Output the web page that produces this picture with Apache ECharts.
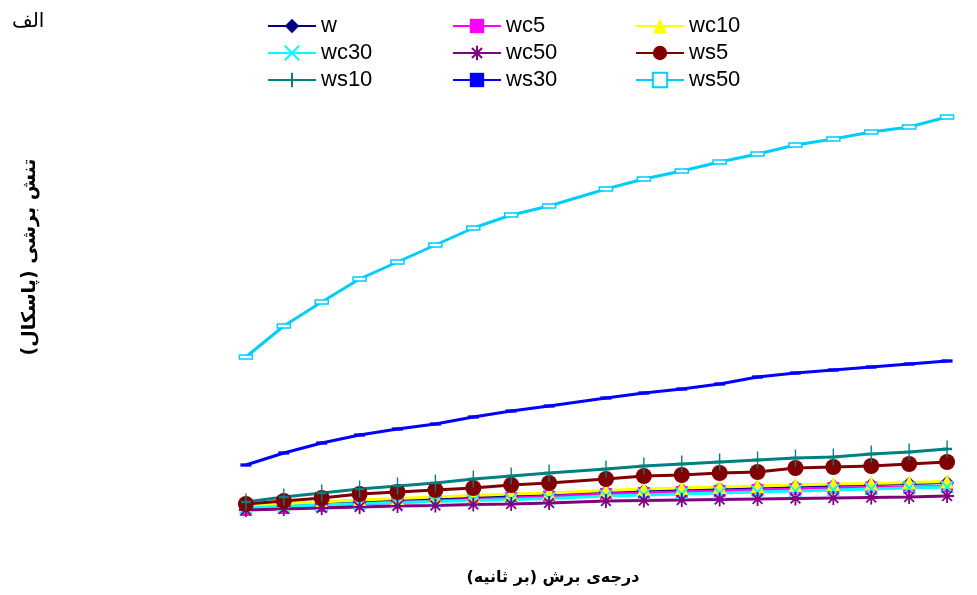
<!DOCTYPE html>
<html>
<head>
<meta charset="utf-8">
<script src="https://cdn.jsdelivr.net/npm/echarts@6/dist/echarts.min.js"></script>
<style>html,body{margin:0;padding:0;background:#fff}#c{width:977px;height:595px}</style>
</head>
<body>
<div id="c"></div>
<script>
const xValues = [1,2,3,4,5,6,7,8,9,10.5,11.5,12.5,13.5,14.5,15.5,16.5,17.5,18.5,19.5];
const seriesNames = ['w','wc5','wc10','wc30','wc50','ws5','ws10','ws30','ws50'];
const w    = [12,14,16,18,19.5,21,22.5,24,25.5,28,29.5,30.5,31.5,32.5,33.5,34.5,35.5,36.5,37.5];
const wc5  = [10,12,14,16,17.5,19,20.5,22,23.5,26,27,28,29,30,31,32,32.5,33,33.5];
const wc10 = [14,16,18,20,21.5,23,24.5,26,27,29.5,31,32,33,34,35,36,36.5,37.5,38.5];
const wc30 = [12,13.5,15,16.5,17.5,18.5,19.5,20.5,21.5,24,25,26,27,28,29,30,31,32,33];
const wc50 = [10,11,12,13,14,14.5,15.5,16,17,19,19.5,20,20.5,21,21.5,22,22.5,23,24];
const ws5  = [16,19,22,26,28,30,32,35,37,41,44,45,47,48,52,53,54,56,58];
const ws10 = [18,23,27,31,34,37,41,44,47,51,54,56,58,60,62,63,66,68,71];
const ws30 = [55,67,77,85,91,96,103,109,114,122,127,131,136,143,147,150,153,156,159];
const ws50 = [163,194,218,241,258,275,292,305,314,331,341,349,358,366,375,381,388,393,403];
const allData = [w,wc5,wc10,wc30,wc50,ws5,ws10,ws30,ws50];

const barPath = 'path://M0,0L10,0L10,3L0,3Z';
const styles = [
  {color:'#000080', symbol:'diamond', size:14, fill:true},
  {color:'#ff00ff', symbol:'rect', size:12, fill:true},
  {color:'#ffff00', symbol:'triangle', size:14, fill:true},
  {color:'#00ffff', symbol:'path://M0,0L10,10M10,0L0,10', size:12, fill:false},
  {color:'#800080', symbol:'path://M5,0L5,10M0,5L10,5M1.5,1.5L8.5,8.5M8.5,1.5L1.5,8.5', size:14, fill:false},
  {color:'#800000', symbol:'circle', size:16, fill:true},
  {color:'#008080', symbol:'path://M5,0L5,16M0,8L10,8', size:[10,17], fill:false},
  {color:'#0000ff', symbol:barPath, size:11, fill:true, keep:true},
  {color:'#00ccff', symbol:barPath, size:13, fill:'hollow', keep:true}
];

const series = seriesNames.map((n,i)=>{
  const s = styles[i];
  let itemStyle;
  if (s.fill === true) itemStyle = {color:s.color, borderWidth:0};
  else if (s.fill === 'hollow') itemStyle = {color:'#ffffff', borderColor:s.color, borderWidth:1.5};
  else itemStyle = {color:s.color, borderColor:s.color, borderWidth:1.8};
  return {
    name:n, type:'line',
    data: xValues.map((x,k)=>[x, allData[i][k]]),
    symbol:s.symbol, symbolSize:s.size, symbolKeepAspect: !!s.keep, showAllSymbol:true,
    lineStyle:{color:s.color, width:3},
    itemStyle: itemStyle,
    emphasis:{disabled:true},
    animation:false, clip:false
  };
});

const legendText = {fontFamily:'Liberation Sans, Arial, sans-serif', fontSize:22, color:'#000'};
function mkLegend(left, data){
  return {left:left, top:10, orient:'vertical', itemWidth:48, itemHeight:18, itemGap:5,
    symbolKeepAspect:true,
    data:data, textStyle:legendText, selectedMode:false};
}

const chart = echarts.init(document.getElementById('c'), null, {renderer:'canvas'});
chart.setOption({
  backgroundColor:'#ffffff',
  animation:false,
  grid:{left:208, right:11, top:100, bottom:75},
  xAxis:{type:'value', min:0, max:20, show:false},
  yAxis:{type:'value', min:0, max:420, show:false},
  legend:[
    mkLegend(262, ['w','wc30','ws10']),
    mkLegend(447, ['wc5','wc50','ws30']),
    mkLegend(630, ['wc10','ws5','ws50'])
  ],
  graphic:[
    {type:'text', left:12, top:12, style:{text:'الف', font:'20px "DejaVu Sans"', fill:'#000'}},
    {type:'text', x:30, y:257, rotation:Math.PI/2,
      style:{text:'تنش برشی (پاسکال)', font:'bold 19px "DejaVu Sans"', fill:'#000', align:'center', verticalAlign:'middle'}},
    {type:'text', x:553, y:578,
      style:{text:'درجه‌ی برش (بر ثانیه)', font:'bold 16px "DejaVu Sans"', fill:'#000', align:'center', verticalAlign:'middle'}}
  ],
  series: series
});
</script>
</body>
</html>
